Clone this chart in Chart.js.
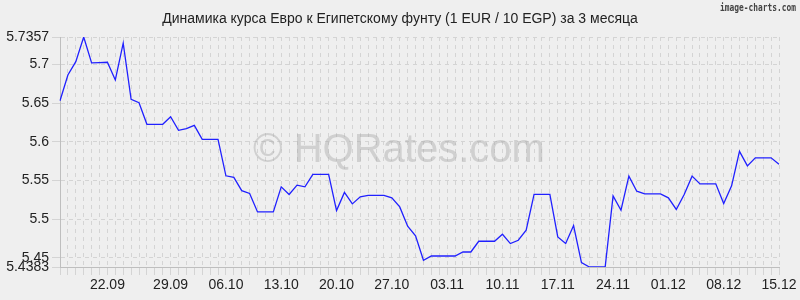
<!DOCTYPE html>
<html>
<head>
<meta charset="utf-8">
<script src="https://cdn.jsdelivr.net/npm/chart.js@4.4.1/dist/chart.umd.min.js"></script>
<style>
    html, body { margin: 0; padding: 0; background: #efefef; }
</style>
</head>
<body>
<canvas id="eur_egp_chart" width="800" height="300"></canvas>
<script>
const chartTitle = "Динамика курса Евро к Египетскому фунту (1 EUR / 10 EGP) за 3 месяца";

// подписи оси X и их позиции (индекс точки)
const tickLabels = ["22.09", "29.09", "06.10", "13.10", "20.10", "27.10", "03.11", "10.11", "17.11", "24.11", "01.12", "08.12", "15.12"];
const tickIndex = [6, 14, 21, 28, 35, 42, 49, 56, 63, 70, 77, 84, 91];

const yTicks = [5.4383, 5.45, 5.5, 5.55, 5.6, 5.65, 5.7, 5.7357];
const yTickLabels = ["5.4383", "5.45", "5.5", "5.55", "5.6", "5.65", "5.7", "5.7357"];

const rates = [
    5.6533, 5.6866, 5.7038, 5.7357, 5.7022, 5.7025, 5.7030, 5.6801, 5.7277, 5.6551,
    5.6507, 5.6228, 5.6228, 5.6228, 5.6326, 5.6150, 5.6171, 5.6215, 5.6033, 5.6033,
    5.6033, 5.5562, 5.5541, 5.5370, 5.5334, 5.5095, 5.5095, 5.5095, 5.5419, 5.5321,
    5.5441, 5.5419, 5.5580, 5.5580, 5.5580, 5.5113, 5.5347, 5.5199, 5.5290, 5.5308,
    5.5308, 5.5308, 5.5277, 5.5160, 5.4910, 5.4785, 5.4470, 5.4525, 5.4525, 5.4525,
    5.4525, 5.4577, 5.4577, 5.4716, 5.4716, 5.4716, 5.4807, 5.4686, 5.4729, 5.4858,
    5.5321, 5.5321, 5.5321, 5.4772, 5.4686, 5.4919, 5.4440, 5.4383, 5.4383, 5.4383,
    5.5303, 5.5117, 5.5558, 5.5363, 5.5329, 5.5329, 5.5329, 5.5277, 5.5127, 5.5321,
    5.5558, 5.5458, 5.5458, 5.5458, 5.5204, 5.5432, 5.5878, 5.5691, 5.5795, 5.5795,
    5.5795, 5.5713
];

const labels = rates.map((v, i) => {
    const k = tickIndex.indexOf(i);
    return k >= 0 ? tickLabels[k] : "";
});

const gridColor = "rgb(212, 212, 212)";
const textFont = { family: "'Liberation Sans', Arial, sans-serif", size: 14 };

const backgroundPlugin = {
    id: "background",
    beforeDraw(chart) {
        const ctx = chart.ctx;
        ctx.save();
        ctx.fillStyle = "#efefef";
        ctx.fillRect(0, 0, chart.width, chart.height);
        ctx.restore();
    }
};

const watermarkPlugin = {
    id: "watermark",
    beforeDatasetsDraw(chart) {
        const ctx = chart.ctx;
        ctx.save();
        ctx.font = "40px 'Liberation Sans', Arial, sans-serif";
        ctx.fillStyle = "rgba(165, 165, 165, 0.42)";
        ctx.textAlign = "center";
        ctx.textBaseline = "alphabetic";
        ctx.fillText("© HQRates.com", 399, 162);
        ctx.restore();
    }
};

const captionPlugin = {
    id: "captions",
    afterDraw(chart) {
        const ctx = chart.ctx;
        ctx.save();
        ctx.fillStyle = "#222";
        ctx.font = "14px 'Liberation Sans', Arial, sans-serif";
        ctx.textAlign = "center";
        ctx.textBaseline = "middle";
        ctx.fillText(chartTitle, 400, 19);

        ctx.font = "bold 11px 'DejaVu Sans Mono', monospace";
        ctx.fillStyle = "#444";
        ctx.textAlign = "right";
        ctx.fillText("image-charts.com", 796, 8, 76);
        ctx.restore();
    }
};

const config = {
    type: "line",
    data: {
        labels: labels,
        datasets: [{
            data: rates,
            borderColor: "#2020ff",
            borderWidth: 1.3,
            pointRadius: 0,
            tension: 0,
            fill: false
        }]
    },
    options: {
        responsive: false,
        animation: false,
        layout: { padding: { left: 0, right: 21, top: 37, bottom: 0 } },
        plugins: {
            legend: { display: false },
            tooltip: { enabled: false },
            title: { display: false }
        },
        scales: {
            x: {
                type: "category",
                offset: false,
                grid: {
                    color: gridColor,
                    drawTicks: true,
                    tickLength: 8,
                    tickColor: gridColor
                },
                border: { display: true, color: "rgb(190, 190, 190)", dash: [4, 4] },
                ticks: {
                    autoSkip: false,
                    maxRotation: 0,
                    minRotation: 0,
                    padding: 2,
                    color: "#222",
                    font: textFont,
                    callback: function(value, index) { return labels[index]; }
                },
                afterFit: function(scale) { scale.height = 33; }
            },
            y: {
                min: 5.4383,
                max: 5.7357,
                grid: {
                    color: gridColor,
                    drawTicks: true,
                    tickLength: 8,
                    tickColor: gridColor
                },
                border: { display: true, color: "rgb(190, 190, 190)", dash: [4, 4] },
                afterBuildTicks: function(scale) {
                    scale.ticks = yTicks.map(v => ({ value: v }));
                },
                ticks: {
                    autoSkip: false,
                    padding: 3,
                    color: "#222",
                    font: textFont,
                    callback: function(value, index) { return yTickLabels[index]; }
                },
                afterFit: function(scale) { scale.width = 60; }
            }
        }
    },
    plugins: [backgroundPlugin, watermarkPlugin, captionPlugin]
};

window.addEventListener("DOMContentLoaded", function() {
    new Chart(document.getElementById("eur_egp_chart"), config);
});
</script>
</body>
</html>
